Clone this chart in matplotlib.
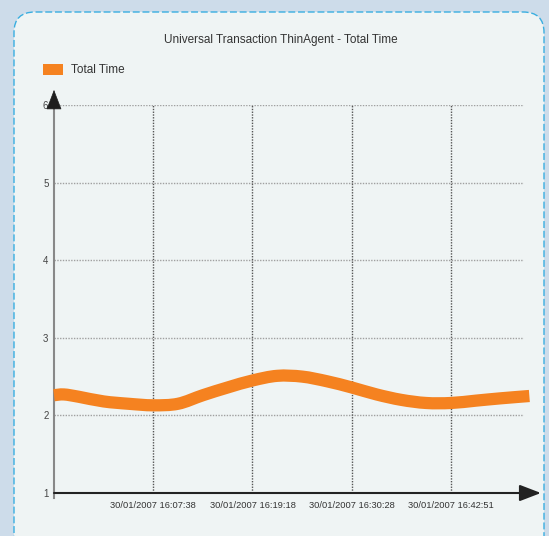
import matplotlib.pyplot as plt
from matplotlib.patches import FancyBboxPatch, PathPatch
from matplotlib.path import Path

# values (x = position in label slots)
pos = [0.0, 0.1, 0.25, 0.5, 0.75, 1.0, 1.25, 1.5, 1.75, 2.0, 2.25, 2.5,
       2.75, 3.0, 3.25, 3.5, 3.75, 4.0, 4.25, 4.5, 4.79]
total_time = [2.26, 2.27, 2.24, 2.18, 2.15, 2.13, 2.15, 2.26, 2.36, 2.45, 2.51, 2.50,
              2.44, 2.36, 2.27, 2.20, 2.16, 2.16, 2.19, 2.22, 2.25]
tick_pos = [1, 2, 3, 4]
tick_labels = ["30/01/2007 16:07:38", "30/01/2007 16:19:18",
               "30/01/2007 16:30:28", "30/01/2007 16:42:51"]
y_ticks = [1, 2, 3, 4, 5, 6]


def smooth_path(xs, ys):
    # Catmull-Rom through the points, written as cubic Bezier segments
    verts = [(xs[0], ys[0])]
    codes = [Path.MOVETO]
    n = len(xs)
    for i in range(n - 1):
        x0, y0 = (xs[i - 1], ys[i - 1]) if i > 0 else (xs[i], ys[i])
        x1, y1 = xs[i], ys[i]
        x2, y2 = xs[i + 1], ys[i + 1]
        x3, y3 = (xs[i + 2], ys[i + 2]) if i + 2 < n else (x2, y2)
        verts += [(x1 + (x2 - x0) / 6, y1 + (y2 - y0) / 6),
                  (x2 - (x3 - x1) / 6, y2 - (y3 - y1) / 6),
                  (x2, y2)]
        codes += [Path.CURVE4] * 3
    return Path(verts, codes)


W, H = 549, 536
fig = plt.figure(figsize=(W / 100, H / 100), dpi=100)
fig.patch.set_facecolor("#cddcea")
plt.rcParams['font.family'] = ['Liberation Sans', 'DejaVu Sans']

# rounded panel with dashed border
panel = FancyBboxPatch((14 / W, -0.05), 530 / W, (H - 12) / H + 0.05,
                       boxstyle="round,pad=0,rounding_size=0.038",
                       transform=fig.transFigure, facecolor="#eff4f4",
                       edgecolor="#3aaee0", linewidth=1.0, linestyle=(0, (5, 2)),
                       zorder=-5)
fig.patches.append(panel)

fig.text(281 / W, 1 - 40 / H, "Universal Transaction ThinAgent - Total Time",
         ha="center", va="center", fontsize=8.5, color="#333333")

# legend
fig.patches.append(plt.Rectangle((43 / W, 1 - 75 / H), 20 / W, 11 / H,
                                 transform=fig.transFigure, facecolor="#f58220",
                                 edgecolor="none", zorder=-4))
fig.text(71 / W, 1 - 70 / H, "Total Time", ha="left", va="center",
         fontsize=8.5, color="#333333")

left, right, top, bottom = 54, 524, 105, 493
ax = fig.add_axes([left / W, 1 - bottom / H, (right - left) / W, (bottom - top) / H])
ax.set_facecolor("none")
xmax = 4.736
ax.set_xlim(0, xmax)
ax.set_ylim(1, 6)
for s in ax.spines.values():
    s.set_visible(False)

# grid
for y in y_ticks[1:]:
    ax.plot([0, xmax], [y, y], color="#a0a0a0", lw=1, ls=(0, (1, 1)), zorder=1)
for x in tick_pos:
    ax.plot([x, x], [1, 6], color="#555555", lw=1, ls=(0, (1, 1)), zorder=1)

ax.add_patch(PathPatch(smooth_path(pos, total_time), facecolor="none",
                       edgecolor="#f58220", lw=8.8, capstyle="butt",
                       clip_on=False, zorder=3))

# axis lines with arrow heads
ax.plot([0, 0], [-0.013, 1.0], color="#888888", lw=1.5, transform=ax.transAxes, clip_on=False)
ax.annotate("", xy=(0, 1.039), xytext=(0, 0.99), xycoords="axes fraction",
            arrowprops=dict(arrowstyle="-|>,head_length=1.3,head_width=0.5",
                            color="#1e1e1e", lw=0.5, shrinkA=0, shrinkB=0), annotation_clip=False)
ax.annotate("", xy=(1.036, 0), xytext=(0, 0), xycoords="axes fraction",
            arrowprops=dict(arrowstyle="-|>,head_length=1.3,head_width=0.5",
                            color="#222222", lw=1.5, shrinkA=0, shrinkB=0), annotation_clip=False)

ax.set_yticks(y_ticks)
ax.set_yticklabels([str(v) for v in y_ticks], fontsize=7, color="#444444")
ax.set_xticks(tick_pos)
ax.set_xticklabels(tick_labels, fontsize=6.7, color="#333333")
ax.tick_params(axis="both", length=0)
ax.tick_params(axis="y", pad=4)
ax.tick_params(axis="x", pad=6)

fig.savefig("out.png", dpi=100, facecolor=fig.get_facecolor())
